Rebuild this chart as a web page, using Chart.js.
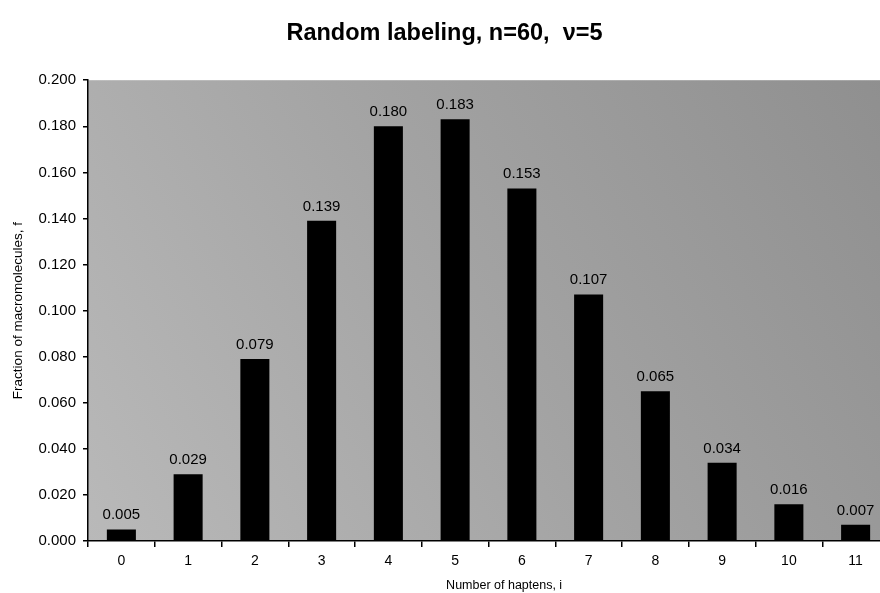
<!DOCTYPE html>
<html>
<head>
<meta charset="utf-8">
<script src="https://cdn.jsdelivr.net/npm/chart.js@4"></script>
<style>
  html, body { margin: 0; padding: 0; background: #fff; overflow: hidden; }
  #wrap { width: 880px; height: 593px; overflow: hidden; }
</style>
</head>
<body>
<div id="wrap"><canvas id="myGraph" width="892" height="593"></canvas></div>
<script>
const ctx = document.getElementById('myGraph');

// number of haptens i, and fraction of macromolecules f
const haptens = ['0', '1', '2', '3', '4', '5', '6', '7', '8', '9', '10', '11'];
const fraction = [0.005, 0.029, 0.079, 0.139, 0.180, 0.183, 0.153, 0.107, 0.065, 0.034, 0.016, 0.007];

// gray paper behind the plot
const plotBackground = {
  id: 'plotBackground',
  beforeDraw(chart) {
    const a = chart.chartArea;
    const c = chart.ctx;
    const g = c.createLinearGradient(a.left, a.bottom, a.right, a.top);
    g.addColorStop(0, '#b9b9b9');
    g.addColorStop(0.5, '#a3a3a3');
    g.addColorStop(1, '#8f8f8f');
    c.save();
    c.fillStyle = g;
    c.fillRect(a.left, a.top, a.right - a.left, a.bottom - a.top);
    c.restore();
  }
};

// value printed above each bar
const barLabels = {
  id: 'barLabels',
  afterDatasetsDraw(chart) {
    const c = chart.ctx;
    const meta = chart.getDatasetMeta(0);
    c.save();
    c.font = '15px "Liberation Sans", Arial, sans-serif';
    c.fillStyle = '#000';
    c.textAlign = 'center';
    c.textBaseline = 'alphabetic';
    meta.data.forEach((bar, i) => {
      c.fillText(fraction[i].toFixed(3), bar.x, bar.y - 10);
    });
    c.restore();
  }
};

const data = {
  labels: haptens,
  datasets: [{
    label: 'f',
    data: fraction,
    backgroundColor: '#000',
    borderWidth: 0,
    barPercentage: 0.435,
    categoryPercentage: 1
  }]
};

const config = {
  type: 'bar',
  data: data,
  plugins: [plotBackground, barLabels],
  options: {
    responsive: false,
    animation: false,
    layout: { padding: { left: 0, right: 3, top: 0, bottom: 0 } },
    plugins: {
      legend: { display: false },
      tooltip: { enabled: false },
      title: {
        display: true,
        text: 'Random labeling, n=60,  \u03BD=5',
        color: '#000',
        font: { family: '"Liberation Sans", Arial, sans-serif', size: 23.5, weight: 'bold', lineHeight: 1.2 },
        padding: { top: 19, bottom: 33 }
      }
    },
    scales: {
      x: {
        offset: true,
        grid: { offset: true, drawOnChartArea: false, color: '#000', tickLength: 6, lineWidth: 1.5 },
        border: { color: '#000', width: 1.5 },
        ticks: {
          color: '#000',
          padding: 6,
          font: { family: '"Liberation Sans", Arial, sans-serif', size: 14 }
        },
        title: {
          display: true,
          text: '         Number of haptens, i',
          color: '#000',
          font: { family: '"Liberation Sans", Arial, sans-serif', size: 12.5 },
          padding: { top: 3, bottom: 0 }
        },
        afterFit(scale) { scale.height = 52; }
      },
      y: {
        min: 0,
        max: 0.2,
        ticks: {
          stepSize: 0.02,
          color: '#000',
          padding: 7,
          font: { family: '"Liberation Sans", Arial, sans-serif', size: 15 },
          callback: (v) => v.toFixed(3)
        },
        grid: { drawOnChartArea: false, color: '#000', tickLength: 5, lineWidth: 1.5 },
        border: { color: '#000', width: 1.5 },
        title: {
          display: true,
          text: 'Fraction of macromolecules, f',
          color: '#000',
          font: { family: '"Liberation Sans", Arial, sans-serif', size: 13.5 },
          padding: { top: 10, bottom: 4 }
        },
        afterFit(scale) { scale.width = 88; }
      }
    }
  }
};

const myChart = new Chart(ctx, config);
</script>
</body>
</html>
